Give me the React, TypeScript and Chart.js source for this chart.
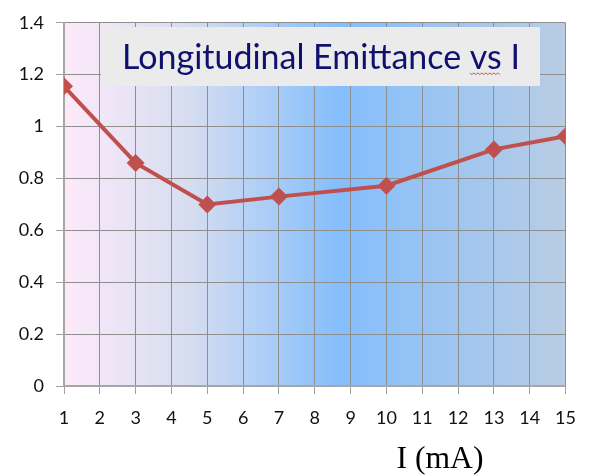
import React, { useEffect, useRef } from "react";
import { Chart, registerables } from "chart.js";

Chart.register(...registerables);

const currents = [1, 3, 5, 7, 10, 13, 15];
const emittance = [1.155, 0.86, 0.70, 0.73, 0.772, 0.912, 0.963];
const xTickValues = [1, 2, 3, 4, 5, 6, 7, 8, 9, 10, 11, 12, 13, 14, 15];
const yTickValues = [0, 0.2, 0.4, 0.6, 0.8, 1, 1.2, 1.4];
const chartTitle = "Longitudinal Emittance vs I";
const xAxisTitle = "I (mA)";

const fitFont = (ctx: CanvasRenderingContext2D, text: string, family: string, width: number) => {
  ctx.font = `40px ${family}`;
  const w = ctx.measureText(text).width;
  const size = (40 * width) / w;
  ctx.font = `${size}px ${family}`;
  return size;
};

const decorPlugin = {
  id: "decor",
  beforeDraw(chart: any) {
    const { ctx, chartArea: a } = chart;
    if (!a) return;
    ctx.save();
    const g = ctx.createLinearGradient(a.left, 0, a.right, 0);
    g.addColorStop(0, "#fdeafa");
    g.addColorStop(0.25, "#d6ddf0");
    g.addColorStop(0.55, "#84befc");
    g.addColorStop(1, "#b9cde4");
    ctx.fillStyle = g;
    ctx.fillRect(a.left, a.top, a.right - a.left, a.bottom - a.top);
    ctx.restore();
  },
  afterDatasetsDraw(chart: any) {
    const { ctx } = chart;
    ctx.save();
    // title box
    ctx.fillStyle = "#ebebeb";
    ctx.fillRect(101, 27, 439, 59);
    ctx.fillStyle = "#10106e";
    const fam = "Lato, 'Open Sans', sans-serif";
    fitFont(ctx, chartTitle, fam, 398);
    ctx.textAlign = "center";
    ctx.textBaseline = "alphabetic";
    ctx.fillText(chartTitle, 321, 69);
    // spell-check squiggle under "vs"
    const full = ctx.measureText(chartTitle).width;
    const pre = ctx.measureText("Longitudinal Emittance ").width;
    const vsw = ctx.measureText("vs").width;
    const x0 = 321 - full / 2 + pre;
    ctx.strokeStyle = "#e05050";
    ctx.lineWidth = 1;
    ctx.beginPath();
    for (let i = 0; i <= vsw; i += 2) {
      const y = 73 + (i % 4 === 0 ? 0 : 1.5);
      if (i === 0) ctx.moveTo(x0 + i, y);
      else ctx.lineTo(x0 + i, y);
    }
    ctx.stroke();
    // x axis title
    ctx.fillStyle = "#000";
    fitFont(ctx, xAxisTitle, "'Liberation Serif', 'DejaVu Serif', serif", 87);
    ctx.textAlign = "center";
    ctx.textBaseline = "alphabetic";
    ctx.fillText(xAxisTitle, 440, 468);
    ctx.restore();
  },
};

export default function App() {
  const ref = useRef<HTMLCanvasElement>(null);
  useEffect(() => {
    document.body.style.margin = "0";
    const tickFont = { family: "Lato, 'Open Sans', sans-serif", size: 18 };
    const chart = new Chart(ref.current!, {
      type: "line",
      data: {
        datasets: [
          {
            data: currents.map((x, i) => ({ x, y: emittance[i] })),
            borderColor: "#c0504d",
            backgroundColor: "#c0504d",
            borderWidth: 4,
            pointStyle: "rectRot",
            pointRadius: 9,
            pointHoverRadius: 9,
            pointBorderWidth: 0,
            tension: 0,
          },
        ],
      },
      options: {
        animation: false,
        responsive: false,
        layout: { autoPadding: false, padding: { left: 0, top: 11, right: 22, bottom: 46 } },
        plugins: { legend: { display: false }, tooltip: { enabled: false }, title: { display: false } },
        scales: {
          x: {
            type: "linear",
            min: 1,
            max: 15,
            afterBuildTicks: (s: any) => {
              s.ticks = xTickValues.map((v) => ({ value: v }));
            },
            afterFit: (s: any) => {
              s.height = 44;
            },
            ticks: {
              color: "#111",
              font: tickFont,
              padding: 13,
              maxRotation: 0,
            },
            grid: { color: "#8e8e8e", lineWidth: 1, tickLength: 8, tickColor: "#a0a0a0" },
            border: { color: "#a6a6a6", width: 2 },
          },
          y: {
            min: 0,
            max: 1.4,
            afterBuildTicks: (s: any) => {
              s.ticks = yTickValues.map((v) => ({ value: v }));
            },
            afterFit: (s: any) => {
              s.width = 64;
            },
            ticks: {
              color: "#111",
              font: tickFont,
              padding: 12,
              callback: (v: any) => String(Math.round(v * 10) / 10),
            },
            grid: { color: "#8e8e8e", lineWidth: 1, tickLength: 8, tickColor: "#a0a0a0" },
            border: { color: "#a6a6a6", width: 2 },
          },
        },
      },
      plugins: [decorPlugin],
    } as any);
    return () => chart.destroy();
  }, []);
  return (
    <div style={{ width: 589, height: 476, background: "#fff" }}>
      <canvas ref={ref} width={589} height={476} />
    </div>
  );
}
